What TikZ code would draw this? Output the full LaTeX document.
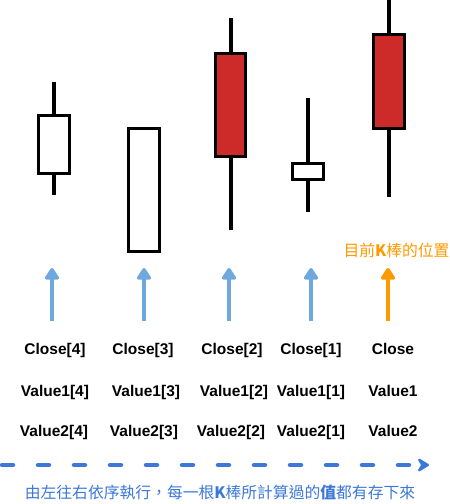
\documentclass[tikz,border=0pt]{standalone}
\usepackage{fontspec}
\newfontfamily\labfont{Liberation Sans}
\newfontfamily\cjkfont{Noto Sans CJK TC}
\usetikzlibrary{arrows.meta}
\definecolor{kred}{HTML}{CD2A2A}
\definecolor{upblue}{HTML}{6FA8DC}
\definecolor{curorange}{HTML}{FF9900}
\definecolor{flowblue}{HTML}{3C78D8}
\begin{document}
\begin{tikzpicture}[x=1pt,y=-1pt,
  kbody/.style={draw=black, line width=3pt, minimum width=31pt, inner sep=0pt, fill=white},
  redbody/.style={kbody, fill=kred},
  wick/.style={draw=black, line width=4pt},
  lab/.style={font=\labfont\bfseries\fontsize{15.5}{18}\selectfont, anchor=base, inner sep=0pt},
  cjklab/.style={font=\cjkfont\fontsize{15.8}{18}\selectfont, anchor=base, inner sep=0pt},
  uparrow/.style={draw=upblue, line width=4pt, -{Triangle[length=13pt,width=16pt,round]}},
  curarrow/.style={uparrow, draw=curorange},
  flowarrow/.style={draw=flowblue, line width=4.5pt, line cap=round, dash pattern=on 11pt off 25pt,
    -{Stealth[length=14pt,width=17pt,inset=5pt,round]}}
]
\useasboundingbox (0,0) rectangle (450,504);

% candles
\node[kbody, minimum height=58pt] (b1) at (54,144.5) {};
\coordinate (t1) at (54,82); \coordinate (l1) at (54,195);
\draw[wick] (b1.north) -- (t1); \draw[wick] (b1.south) -- (l1);

\node[kbody, minimum height=123pt] (b2) at (144,190) {};

\node[redbody, minimum width=30pt, minimum height=103pt] (b3) at (230.5,105) {};
\coordinate (t3) at (230.5,18); \coordinate (l3) at (230.5,230);
\draw[wick] (b3.north) -- (t3); \draw[wick] (b3.south) -- (l3);

\node[kbody, minimum height=16pt] (b4) at (308,171.5) {};
\coordinate (t4) at (308,98); \coordinate (l4) at (308,212);
\draw[wick] (b4.north) -- (t4); \draw[wick] (b4.south) -- (l4);

\node[redbody, minimum height=94pt] (b5) at (389,81.5) {};
\coordinate (t5) at (389,0); \coordinate (l5) at (389,197);
\draw[wick] (b5.north) -- (t5); \draw[wick] (b5.south) -- (l5);

% current bar label
\node[cjklab, text=curorange] (cur) at (396.5,256) {目前{\bfseries K}棒的位置};

% arrows
\coordinate (s1) at (52,321); \coordinate (e1) at (52,268);
\coordinate (s2) at (144,321); \coordinate (e2) at (144,268);
\coordinate (s3) at (229,321); \coordinate (e3) at (229,268);
\coordinate (s4) at (311,321); \coordinate (e4) at (311,268);
\coordinate (s5) at (388,321); \coordinate (e5) at (388,268);
\draw[uparrow] (s1) -- (e1);
\draw[uparrow] (s2) -- (e2);
\draw[uparrow] (s3) -- (e3);
\draw[uparrow] (s4) -- (e4);
\draw[curarrow] (s5) -- (e5);

% labels
\node[lab] (c4) at (55,354) {Close[4]};
\node[lab] (c3) at (143,354) {Close[3]};
\node[lab] (c2) at (232,354) {Close[2]};
\node[lab] (c1) at (311,354) {Close[1]};
\node[lab] (c0) at (393,354) {Close};

\node[lab] (va4) at (55,396.5) {Value1[4]};
\node[lab] (va3) at (146,396.5) {Value1[3]};
\node[lab] (va2) at (234,396.5) {Value1[2]};
\node[lab] (va1) at (311,396.5) {Value1[1]};
\node[lab] (va0) at (393,396.5) {Value1};

\node[lab] (vb4) at (54,436.5) {Value2[4]};
\node[lab] (vb3) at (144,436.5) {Value2[3]};
\node[lab] (vb2) at (231,436.5) {Value2[2]};
\node[lab] (vb1) at (311,436.5) {Value2[1]};
\node[lab] (vb0) at (393,436.5) {Value2};

% flow arrow
\coordinate (fs) at (2,465); \coordinate (fe) at (429,465);
\draw[flowarrow] (fs) -- (fe);
\node[cjklab, text=flowblue] (note) at (220,498) {由左往右依序執行，每一根{\bfseries K}棒所計算過的{\bfseries 值}都有存下來};
\end{tikzpicture}
\end{document}
